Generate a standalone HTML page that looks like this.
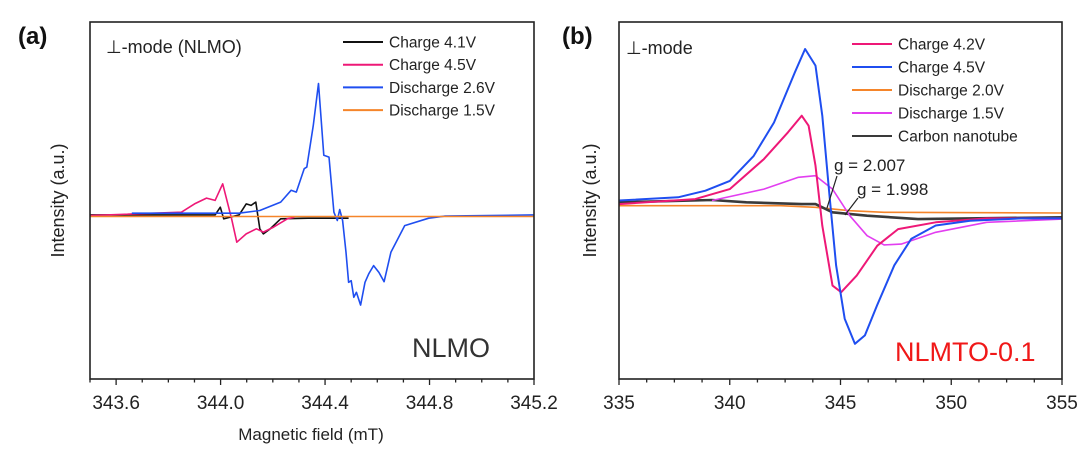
<!DOCTYPE html>
<html><head><meta charset="utf-8"><style>
body{margin:0;background:#fff;}
svg{display:block;font-family:"Liberation Sans",sans-serif;}
</style></head><body>
<svg id="chart" width="1080" height="449"></svg>
<script>
// Panel (a) data
const aBlueX=[343.66,344.07,344.15,344.23,344.27,344.29,344.32,344.33,344.355,344.375,344.395,344.415,344.434,344.447,344.456,344.467,344.48,344.49,344.5,344.51,344.52,344.536,344.553,344.567,344.586,344.606,344.626,344.652,344.705,344.797,344.86,345.2];
const aBlueY=[0.012,0.012,0.026,0.069,0.13,0.121,0.242,0.25,0.466,0.682,0.311,0.302,0.017,-0.026,0.031,-0.026,-0.19,-0.345,-0.337,-0.423,-0.397,-0.463,-0.345,-0.302,-0.259,-0.294,-0.342,-0.19,-0.052,-0.014,-0.003,0.003];
const aPinkX=[343.5,343.85,343.9,343.946,343.979,344.008,344.029,344.042,344.062,344.098,344.137,344.164,344.203,344.256,344.283];
const aPinkY=[0,0.017,0.06,0.09,0.078,0.164,0.052,-0.017,-0.138,-0.095,-0.069,-0.086,-0.06,-0.017,-0.009];
const aBlackX=[343.5,343.979,343.999,344.012,344.071,344.098,344.117,344.135,344.15,344.164,344.19,344.23,344.335,344.49];
const aBlackY=[0.003,0.003,0.043,-0.017,0.003,0.06,0.052,0.069,-0.069,-0.095,-0.069,-0.017,-0.014,-0.014];
const aOrangeX=[343.5,345.2];
const aOrangeY=[-0.005,-0.005];
const aTicks=["343.6","344.0","344.4","344.8","345.2"];
// Panel (b) data
const bBlueX=[335,337.67,338.9,340,341.08,342,342.94,343.4,343.87,344.18,344.49,344.8,345.19,345.65,346.1,346.65,347.43,348.2,349.3,350.85,353.2,355];
const bBlueY=[0,0.018,0.055,0.11,0.25,0.437,0.718,0.849,0.756,0.475,0.046,-0.363,-0.662,-0.803,-0.756,-0.588,-0.363,-0.214,-0.14,-0.113,-0.1,-0.1];
const bPinkX=[335,338.44,340,341.54,342.63,343.25,343.56,343.87,344.18,344.64,345.03,345.73,346.66,347.6,349.3,351.6,355];
const bPinkY=[-0.02,0.008,0.064,0.232,0.382,0.475,0.419,0.195,-0.141,-0.477,-0.514,-0.421,-0.253,-0.16,-0.122,-0.1,-0.1];
const bMagX=[339.2,341.54,343.1,343.87,344.64,345.42,346.2,346.97,347.74,349.3,351.6,355];
const bMagY=[0,0.064,0.13,0.139,0.064,-0.085,-0.197,-0.249,-0.244,-0.178,-0.122,-0.104];
const bOrangeX=[335,342.3,343.87,345.42,346.97,355];
const bOrangeY=[-0.029,-0.029,-0.038,-0.057,-0.066,-0.07];
const bCntX=[335,339.2,340.75,343.25,343.87,344.64,346.2,348.5,355];
const bCntY=[-0.01,0.003,-0.01,-0.02,-0.02,-0.066,-0.085,-0.104,-0.094];
const bTicks=["335","340","345","350","355"];

const NS="http://www.w3.org/2000/svg";
const svg=document.getElementById('chart');
function mk(tag,attrs,parent,text){const e=document.createElementNS(NS,tag);for(const k in attrs)e.setAttribute(k,attrs[k]);if(text!==undefined)e.textContent=text;(parent||svg).appendChild(e);return e;}

function panel(cfg){
  const g=mk('g',{});
  
  
  const sx=v=>cfg.x0+(v-cfg.xmin)/(cfg.xmax-cfg.xmin)*(cfg.x1-cfg.x0);
  const sy=v=>cfg.y0+(cfg.ymax-v)/(cfg.ymax-cfg.ymin)*(cfg.y1-cfg.y0);
  cfg.series.forEach(s=>{
    const d=s.x.map((v,i)=>(i?'L':'M')+sx(v).toFixed(1)+','+sy(s.y[i]).toFixed(1)).join('');
    const p=mk('path',{d:d,fill:'none',stroke:s.color,'stroke-width':s.w||1.6,'stroke-linejoin':'round'},g);
    
    
  });
  const box=mk('rect',{x:cfg.x0,y:cfg.y0,width:cfg.x1-cfg.x0,height:cfg.y1-cfg.y0,fill:'none',stroke:'#222','stroke-width':1.6},g);
  
  
  for(let v=cfg.xmin;v<=cfg.xmax+1e-9;v+=cfg.minor){
    const vv=Math.round(v/cfg.minor)*cfg.minor;
    const isMaj=cfg.ticks.some(t=>Math.abs(parseFloat(t)-vv)<1e-6);
    mk('line',{x1:sx(vv),x2:sx(vv),y1:cfg.y1,y2:cfg.y1+(isMaj?6:3.5),stroke:'#222','stroke-width':1.3},g);
  }
  cfg.ticks.forEach(t=>{
    const tl=mk('text',{x:sx(parseFloat(t)),y:cfg.y1+30,'font-size':19,'text-anchor':'middle',fill:'#222'},g,t);
    
    
  });
  const yt=mk('text',{x:0,y:0,'font-size':18,'text-anchor':'middle',fill:'#222',transform:`translate(${cfg.ytx},${(cfg.y0+cfg.y1)/2}) rotate(-90)`},g,'Intensity (a.u.)');
  
  
  cfg.legend.forEach((l,i)=>{
    const lg=mk('g',{},g);
    
    
    const y=cfg.ly+i*cfg.ld;
    mk('line',{x1:cfg.lx,x2:cfg.lx+40,y1:y,y2:y,stroke:l.color,'stroke-width':2},lg);
    mk('text',{x:cfg.lx+46,y:y+5.5,'font-size':15.5,fill:'#222'},lg,l.label);
  });
  return {g,sx,sy};
}

const A=panel({name:'panel-a',x0:90,x1:534,y0:22,y1:379,xmin:343.5,xmax:345.2,ymin:-0.845,ymax:1,minor:0.1,ticks:aTicks,ytx:64,lx:343,ly:42,ld:22.7,
 series:[{name:'charge-4.1v-line',x:aBlackX,y:aBlackY,color:'#111'},{name:'charge-4.5v-line',x:aPinkX,y:aPinkY,color:'#ee1877'},{name:'discharge-2.6v-line',x:aBlueX,y:aBlueY,color:'#1f4ef0'},{name:'discharge-1.5v-line',x:aOrangeX,y:aOrangeY,color:'#f5852a'}],
 legend:[{label:'Charge 4.1V',color:'#111'},{label:'Charge 4.5V',color:'#ee1877'},{label:'Discharge 2.6V',color:'#1f4ef0'},{label:'Discharge 1.5V',color:'#f5852a'}]});
const B=panel({name:'panel-b',x0:619,x1:1062,y0:22,y1:379,xmin:335,xmax:355,ymin:-1,ymax:1,minor:1.25,ticks:bTicks,ytx:596,lx:852,ly:44,ld:23,
 series:[{name:'discharge-2.0v-line',x:bOrangeX,y:bOrangeY,color:'#f5852a'},{name:'carbon-nanotube-line',x:bCntX,y:bCntY,color:'#3a3a3a',w:2.6},{name:'discharge-1.5v-line',x:bMagX,y:bMagY,color:'#e23ef0'},{name:'charge-4.2v-line',x:bPinkX,y:bPinkY,color:'#ee1877',w:2},{name:'charge-4.5v-line',x:bBlueX,y:bBlueY,color:'#1f4ef0',w:2}],
 legend:[{label:'Charge 4.2V',color:'#ee1877'},{label:'Charge 4.5V',color:'#1f4ef0'},{label:'Discharge 2.0V',color:'#f5852a'},{label:'Discharge 1.5V',color:'#e23ef0'},{label:'Carbon nanotube',color:'#3a3a3a'}]});

function txt(name,attrs,s){const t=mk('text',attrs,svg,s);return t;}
txt('panel-a-label',{x:18,y:44,'font-size':24,'font-weight':'bold',fill:'#111'},'(a)');
txt('panel-b-label',{x:562,y:44,'font-size':24,'font-weight':'bold',fill:'#111'},'(b)');
txt('mode-label-a',{x:106,y:53,'font-size':18,fill:'#222'},'\u22A5-mode (NLMO)');
txt('mode-label-b',{x:626,y:54,'font-size':18,fill:'#222'},'\u22A5-mode');
txt('sample-label-a',{x:412,y:357,'font-size':27,fill:'#333'},'NLMO');
txt('sample-label-b',{x:895,y:361,'font-size':27,fill:'#f01818'},'NLMTO-0.1');
txt('x-axis-title',{x:311,y:440,'font-size':17,'text-anchor':'middle',fill:'#222'},'Magnetic field (mT)');
txt('g-2.007-annotation',{x:834,y:171,'font-size':17,fill:'#222'},'g = 2.007');
txt('g-1.998-annotation',{x:857,y:195,'font-size':17,fill:'#222'},'g = 1.998');
mk('line',{x1:837,y1:176,x2:827,y2:208,stroke:'#222','stroke-width':1.2});
mk('line',{x1:858,y1:198,x2:845,y2:215,stroke:'#222','stroke-width':1.2});
</script>
</body></html>
